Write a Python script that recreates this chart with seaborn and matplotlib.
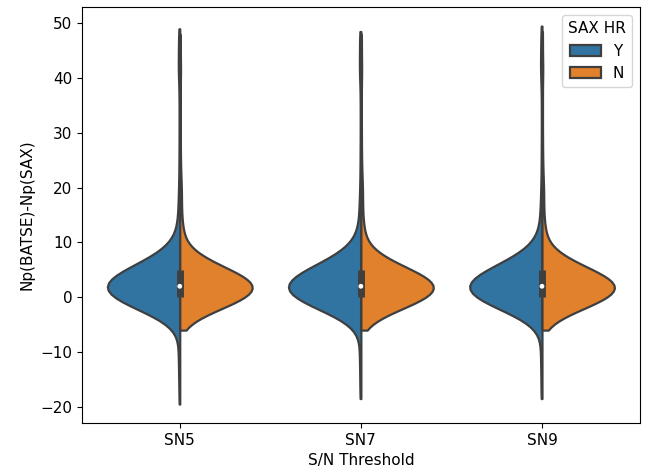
import numpy as np
import pandas as pd
import matplotlib
matplotlib.use("Agg")
import matplotlib.pyplot as plt
import seaborn as sns

plt.rcParams["font.size"] = 11

# categories and hue levels
categories = ["SN5", "SN7", "SN9"]
hue_levels = ["Y", "N"]

body_bins = [-7, -6, -5, -4, -3, -2, -1, 0, 1, 2, 3, 4, 5, 6, 7, 8, 9, 10, 11, 12, 13, 14, 15, 16]
y_counts = [0, 0, 2, 6, 13, 22, 31, 38, 43, 44, 41, 35, 28, 21, 15, 9, 5, 3, 2, 2, 1, 1, 1, 1]
n_counts = [0, 1, 2, 7, 15, 24, 33, 41, 46, 48, 44, 37, 29, 21, 14, 8, 5, 3, 2, 2, 2, 1, 1, 1]

# sparse tails
y_tail_low = [-17.0, -15.0, -13.0, -11.5, -10.0, -9.0, -8.0]
y_tail_high = [17.0, 18.5, 20.0, 22.0, 24.5, 27.0, 30.0, 33.0, 36.0, 39.0, 41.0, 41.8, 42.6, 44.5, 46.5, 47.2]
n_tail_high = [17.0, 18.0, 19.0, 20.0, 21.0, 22.5, 24.5, 27.0, 30.0, 33.5, 37.0, 40.5, 42.0, 45.0]

# per-category extremes
y_min_values = [-19.5, -18.5, -18.5]
y_max_values = [49.0, 48.5, 49.5]
n_min_values = [-6.0, -6.0, -6.0]
n_max_values = [48.0, 48.0, 48.5]

rows = []
for i, cat in enumerate(categories):
    y_vals = list(np.repeat(body_bins, y_counts).astype(float)) + y_tail_low + y_tail_high + [y_min_values[i], y_max_values[i]]
    n_vals = list(np.repeat(body_bins, n_counts).astype(float)) + n_tail_high + [n_min_values[i], n_max_values[i]]
    n_vals = [v for v in n_vals if v >= n_min_values[i]]
    rows += [(cat, "Y", v) for v in y_vals]
    rows += [(cat, "N", v) for v in n_vals]

xcol, ycol, hcol = "S/N Threshold", "Np(BATSE)-Np(SAX)", "SAX HR"
df = pd.DataFrame(rows, columns=[xcol, hcol, ycol])

fig = plt.figure(figsize=(6.57, 4.75), dpi=100)
ax = fig.add_axes([0.1248, 0.1095, 0.849, 0.8755])
sns.violinplot(data=df, x=xcol, y=ycol, hue=hcol,
               hue_order=hue_levels, order=categories, split=True, cut=0,
               inner=None, linewidth=1.6, ax=ax)

# combined inner box (quartiles, whiskers, median) per category
for i, cat in enumerate(categories):
    vals = df.loc[df[xcol] == cat, ycol].to_numpy()
    q1, med, q3 = np.percentile(vals, [25, 50, 75])
    iqr = q3 - q1
    lo = vals[vals >= q1 - 1.5 * iqr].min()
    hi = vals[vals <= q3 + 1.5 * iqr].max()
    ax.vlines(i, lo, hi, color="#3f3f3f", linewidth=1.5, zorder=3)
    ax.vlines(i, q1, q3, color="#3f3f3f", linewidth=5, zorder=3)
    ax.scatter([i], [med], s=12, color="white", zorder=4, edgecolor="none")

ax.legend(title="SAX HR", loc="upper right")
fig.savefig("out.png", dpi=100)
